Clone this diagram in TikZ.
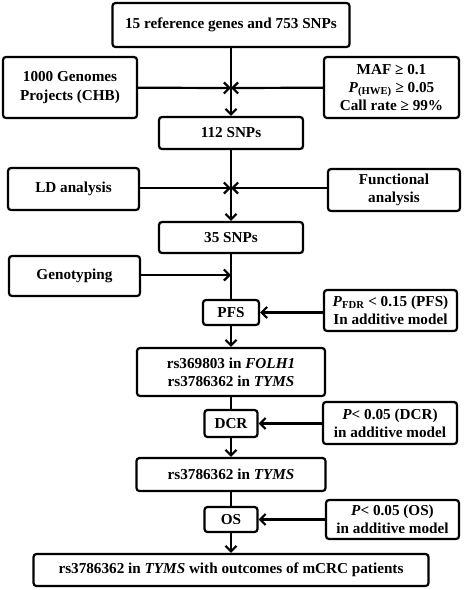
\documentclass[tikz,border=0pt]{standalone}
\usepackage{fontspec}
\setmainfont{Liberation Serif}
\usetikzlibrary{arrows.meta}
\begin{document}
\begin{tikzpicture}[x=1pt,y=-1pt,
  box/.style={draw,line width=2.2pt,rounded corners=3pt,align=center,inner sep=0pt,
    font=\fontsize{15.2}{18.3}\selectfont\bfseries},
  arr/.style={line width=2.2pt,-{Straight Barb[length=5.5pt,width=11pt,line width=2.2pt]}},
  ln/.style={line width=2.2pt}]
\useasboundingbox (0,0) rectangle (464,590);
\node[box,minimum width=237pt,minimum height=44pt] (top) at (231,25) {15 reference genes and 753 SNPs};
\node[box,minimum width=134pt,minimum height=61pt] (g1000) at (70,87.5) {1000 Genomes\\Projects (CHB)};
\node[box,minimum width=135pt,minimum height=61pt] (maf) at (391.5,87.5) {MAF ≥ 0.1\\\textit{P}\textsubscript{(HWE)} ≥ 0.05\\Call rate ≥ 99\%};
\node[box,minimum width=144pt,minimum height=32pt] (s112) at (231,133) {112 SNPs};
\node[box,minimum width=131pt,minimum height=42pt] (ld) at (73.5,189) {LD analysis};
\node[box,minimum width=132pt,minimum height=42pt] (func) at (394,190) {Functional\\analysis};
\node[box,minimum width=144pt,minimum height=31pt] (s35) at (231,237.5) {35 SNPs};
\node[box,minimum width=131pt,minimum height=40pt] (geno) at (74.5,276) {Genotyping};
\node[box,minimum width=56pt,minimum height=25pt] (pfs) at (231,312.5) {PFS};
\node[box,minimum width=133pt,minimum height=41pt] (pfdr) at (390.5,310.5) {\textit{P}\textsubscript{FDR} < 0.15 (PFS)\\In additive model};
\node[box,minimum width=188pt,minimum height=48pt] (rs2) at (231,372) {rs369803 in \textit{FOLH1}\\rs3786362 in \textit{TYMS}};
\node[box,minimum width=53pt,minimum height=27pt] (dcr) at (231,423.5) {DCR};
\node[box,minimum width=134pt,minimum height=42pt] (pdcr) at (390,423) {\textit{P}< 0.05 (DCR)\\in additive model};
\node[box,minimum width=189pt,minimum height=33pt] (rs1) at (231,474.5) {rs3786362 in \textit{TYMS}};
\node[box,minimum width=53pt,minimum height=25pt] (os) at (231,519.5) {OS};
\node[box,minimum width=133pt,minimum height=39pt] (pos) at (392.5,519.5) {\textit{P}< 0.05 (OS)\\in additive model};
\node[box,minimum width=395pt,minimum height=32pt] (final) at (231,570) {rs3786362 in \textit{TYMS} with outcomes of mCRC patients};
\coordinate (j1) at (231,88);
\coordinate (j2) at (231,188);
\coordinate (j3) at (231,275);
\draw[arr] (top) -- (s112);
\draw[arr] (g1000) -- (j1);
\draw[arr] (maf) -- (j1);
\draw[arr] (s112) -- (s35);
\draw[arr] (ld.east |- j2) -- (j2);
\draw[arr] (func.west |- j2) -- (j2);
\draw[ln] (s35) -- (pfs);
\draw[arr] (geno.east |- j3) -- (j3);
\draw[arr] (pfdr.west |- pfs) -- (pfs);
\draw[arr] (pfs) -- (rs2);
\draw[ln] (rs2) -- (dcr);
\draw[arr] (pdcr.west |- dcr) -- (dcr);
\draw[arr] (dcr) -- (rs1);
\draw[ln] (rs1) -- (os);
\draw[arr] (pos) -- (os);
\draw[arr] (os) -- (final);
\end{tikzpicture}
\end{document}
